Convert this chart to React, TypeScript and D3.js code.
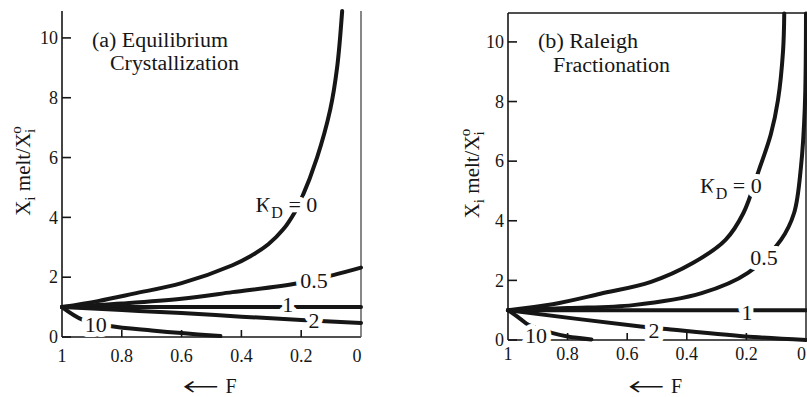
import * as d3 from "d3";

// shared axis values
const F_TICKS = [1, 0.8, 0.6, 0.4, 0.2, 0];
const F_TICK_LABELS = ["1", "0.8", "0.6", "0.4", "0.2", "0"];
const Y_TICKS = [0, 2, 4, 6, 8, 10];

// (a) equilibrium crystallization, [F, Xmelt/X0]
const eqK0: [number, number][] = [
  [1, 1], [0.88, 1.2], [0.76, 1.45], [0.6, 1.8], [0.43, 2.4], [0.37, 2.7], [0.31, 3.1],
  [0.26, 3.6], [0.22, 4.2], [0.2, 4.6], [0.147, 6.0], [0.103, 7.6], [0.08, 9.0], [0.063, 10.9],
];
const eqK05: [number, number][] = [
  [1, 1], [0.8, 1.12], [0.6, 1.28], [0.43, 1.5], [0.21, 1.8], [0.093, 2.07], [0, 2.32],
];
const eqK1: [number, number][] = [[1, 1], [0, 1]];
const eqK2: [number, number][] = [[1, 1], [0.8, 0.9], [0.6, 0.8], [0.4, 0.68], [0.2, 0.57], [0, 0.47]];
const eqK10: [number, number][] = [[1, 1], [0.93, 0.57], [0.84, 0.37], [0.7, 0.22], [0.6, 0.13], [0.47, 0.03]];

// (b) rayleigh fractionation
const rK0: [number, number][] = [
  [1, 1], [0.85, 1.2], [0.69, 1.55], [0.52, 1.95], [0.38, 2.58], [0.27, 3.36], [0.21, 4.26],
  [0.158, 5.7], [0.118, 6.9], [0.094, 8.05], [0.077, 9.7], [0.073, 10.95],
];
const rK05: [number, number][] = [
  [1, 1], [0.8, 1.07], [0.58, 1.17], [0.35, 1.57], [0.195, 2.25], [0.084, 3.36],
  [0.04, 4.26], [0.017, 5.8], [0.004, 7.8], [0, 10.95],
];
const rK1: [number, number][] = [[1, 1], [0, 1]];
const rK2: [number, number][] = [[1, 1], [0.555, 0.45], [0.48, 0.38], [0.175, 0.1], [0, 0]];
const rK10: [number, number][] = [[1, 1], [0.96, 0.72], [0.93, 0.5], [0.85, 0.23], [0.8, 0.12], [0.72, 0.02]];

type Label = { text: string; f: number; v: number; kd?: boolean };

const eqLabels: Label[] = [
  { text: "0", f: 0.353, v: 4.18, kd: true },
  { text: "0.5", f: 0.157, v: 1.64 },
  { text: "1", f: 0.245, v: 0.84 },
  { text: "2", f: 0.157, v: 0.3 },
  { text: "10", f: 0.887, v: 0.17 },
];
const rLabels: Label[] = [
  { text: "0", f: 0.356, v: 4.93, kd: true },
  { text: "0.5", f: 0.141, v: 2.52 },
  { text: "1", f: 0.198, v: 0.67 },
  { text: "2", f: 0.51, v: 0.07 },
  { text: "10", f: 0.906, v: -0.1 },
];

const INK = "#161616";
const serif = { fontFamily: "Liberation Serif" };

type PanelProps = {
  left: number;
  right: number;
  top: number;
  y0: number;
  yMax: number;
  series: [number, number][][];
  labels: Label[];
  title: [string, string];
  titleX: [number, number];
  titleY: [number, number];
  titleW: [number, number];
  yLabelX: number;
  tickBase: number;
  lastTickEnd?: boolean;
  frame: { top: boolean; rightColor: string };
};

function Panel(p: PanelProps) {
  const x = d3.scaleLinear().domain([1, 0]).range([p.left, p.right]);
  const y = d3.scaleLinear().domain([0, p.yMax]).range([p.y0, p.top]);
  const line = d3
    .line<[number, number]>()
    .x((d) => x(d[0]))
    .y((d) => y(d[1]))
    .curve(d3.curveCatmullRom.alpha(0.5));
  const midY = (p.top + p.y0) / 2;
  const midX = (p.left + p.right) / 2;

  return (
    <g fill={INK} style={serif}>
      {/* frame */}
      <line x1={p.left} x2={p.left} y1={p.top} y2={p.y0} stroke={INK} strokeWidth={1.6} />
      <line x1={p.left} x2={p.right} y1={p.y0} y2={p.y0} stroke={INK} strokeWidth={1.6} />
      <line x1={p.right} x2={p.right} y1={p.top} y2={p.y0} stroke={p.frame.rightColor} strokeWidth={1.4} />
      {p.frame.top && (
        <line x1={p.left} x2={p.right} y1={p.top} y2={p.top} stroke={INK} strokeWidth={1.6} />
      )}

      {/* curves */}
      {p.series.map((s, i) => (
        <path key={i} d={line(s) ?? ""} fill="none" stroke={INK} strokeWidth={4} strokeLinecap="round" />
      ))}

      {/* ticks */}
      {Y_TICKS.map((t) => (
        <g key={t}>
          <line x1={p.left} x2={p.left + 9} y1={y(t)} y2={y(t)} stroke={INK} strokeWidth={1.6} />
          <text x={p.left - 4} y={y(t)} dy="0.35em" textAnchor="end" fontSize={18} style={serif}>
            {t}
          </text>
        </g>
      ))}
      {F_TICKS.map((t, i) => {
        const last = i === F_TICKS.length - 1;
        return (
          <g key={t}>
            {i > 0 && !last && (
              <line x1={x(t)} x2={x(t)} y1={p.y0} y2={p.y0 - 7} stroke={INK} strokeWidth={1.6} />
            )}
            <text
              x={last && p.lastTickEnd ? x(t) : last ? x(t) - 4 : x(t)}
              y={p.tickBase}
              textAnchor={last && p.lastTickEnd ? "end" : "middle"}
              fontSize={18}
              style={serif}
            >
              {F_TICK_LABELS[i]}
            </text>
          </g>
        );
      })}

      {/* curve labels, a white rim breaks the lines */}
      {p.labels.map((l, i) =>
        l.kd ? (
          <text
            key={i}
            x={x(l.f)}
            y={y(l.v)}
            fontSize={22}
            stroke="white"
            strokeWidth={10}
            strokeLinejoin="round"
            style={{ ...serif, paintOrder: "stroke" }}
          >
            K
            <tspan fontSize={16} dy={6}>D</tspan>
            <tspan dy={-6}> = {l.text}</tspan>
          </text>
        ) : (
          <text
            key={i}
            x={x(l.f)}
            y={y(l.v)}
            fontSize={22}
            textAnchor="middle"
            stroke="white"
            strokeWidth={10}
            strokeLinejoin="round"
            style={{ ...serif, paintOrder: "stroke" }}
          >
            {l.text}
          </text>
        ),
      )}

      {/* panel title */}
      <text
        x={p.titleX[0]}
        y={p.titleY[0]}
        fontSize={20}
        textLength={p.titleW[0]}
        lengthAdjust="spacingAndGlyphs"
        style={serif}
      >
        {p.title[0]}
      </text>
      <text
        x={p.titleX[1]}
        y={p.titleY[1]}
        fontSize={20}
        textLength={p.titleW[1]}
        lengthAdjust="spacingAndGlyphs"
        style={serif}
      >
        {p.title[1]}
      </text>

      {/* y axis title */}
      <text
        transform={`translate(${p.yLabelX},${midY - 3}) rotate(-90)`}
        textAnchor="middle"
        fontSize={21}
        style={serif}
      >
        X<tspan fontSize={15} dy={5}>i</tspan>
        <tspan dy={-5}> melt/X</tspan>
        <tspan fontSize={15} dy={5}>i</tspan>
        <tspan fontSize={15} dx={-5} dy={-14}>o</tspan>
      </text>

      {/* x axis title */}
      <text
        x={midX - 29}
        y={394}
        fontSize={28}
        textLength={36}
        lengthAdjust="spacingAndGlyphs"
        style={{ fontFamily: "FreeSerif" }}
      >
        ←
      </text>
      <text x={midX + 14} y={393} fontSize={20} style={serif}>
        F
      </text>
    </g>
  );
}

export default function App() {
  return (
    <svg
      width={807}
      height={397}
      style={{ position: "absolute", left: 0, top: 0, background: "white", fontFamily: "Liberation Serif" }}
    >
      <rect width={807} height={397} fill="white" />
      <Panel
        left={62}
        right={361}
        top={11}
        y0={337}
        yMax={10.9}
        series={[eqK0, eqK05, eqK1, eqK2, eqK10]}
        labels={eqLabels}
        title={["(a) Equilibrium", "Crystallization"]}
        titleX={[92, 110]}
        titleY={[47, 70]}
        titleW={[136, 129]}
        yLabelX={30}
        tickBase={362}
        frame={{ top: false, rightColor: "#555" }}
      />
      <Panel
        left={508}
        right={806}
        top={13}
        y0={340}
        yMax={10.97}
        series={[rK0, rK05, rK1, rK2, rK10]}
        labels={rLabels}
        title={["(b) Raleigh", "Fractionation"]}
        titleX={[538, 553]}
        titleY={[48, 72]}
        titleW={[100, 117]}
        yLabelX={479}
        tickBase={360}
        lastTickEnd
        frame={{ top: true, rightColor: INK }}
      />
    </svg>
  );
}
